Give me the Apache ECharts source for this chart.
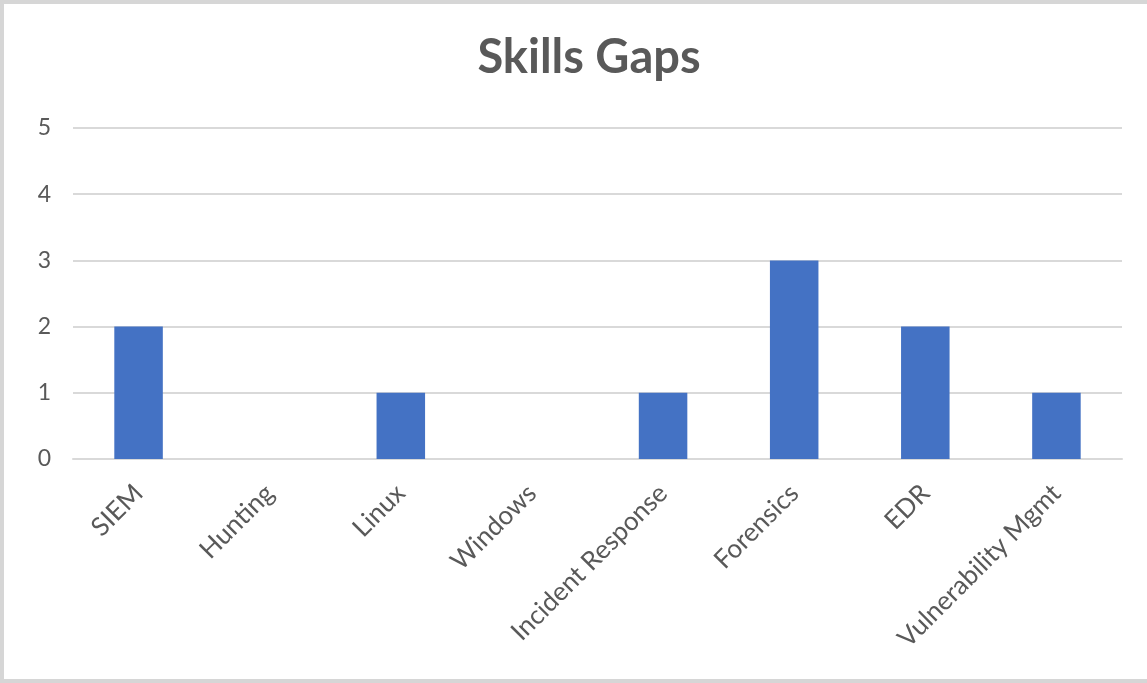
<!DOCTYPE html>
<html>
<head>
<meta charset="utf-8">
<script src="https://cdn.jsdelivr.net/npm/echarts@6/dist/echarts.min.js"></script>
<style>
html,body{margin:0;padding:0;background:#fff;}
#frame{position:absolute;left:0;top:0;width:1147px;height:683px;box-sizing:border-box;border-top:4px solid #d6d6d6;border-left:4px solid #d6d6d6;border-bottom:4px solid #d6d6d6;}
#chart{position:absolute;left:0;top:0;width:1147px;height:683px;}
</style>
</head>
<body>
<div id="frame"></div>
<div id="chart"></div>
<script>
const categories = ["SIEM", "Hunting", "Linux", "Windows", "Incident Response", "Forensics", "EDR", "Vulnerability Mgmt"];
const values = [2, 0, 1, 0, 1, 3, 2, 1];
const yTicks = [0, 1, 2, 3, 4, 5];

const chart = echarts.init(document.getElementById('chart'));
chart.setOption({
  animation: false,
  title: {
    text: 'Skills Gaps',
    left: 584,
    textAlign: 'center',
    top: 29,
    textStyle: {fontFamily: 'Lato', fontWeight: 'bold', fontSize: 47, color: '#595959'}
  },
  grid: {left: 73, right: 25, top: 128, bottom: 224, containLabel: false},
  xAxis: {
    type: 'category',
    data: categories,
    axisLine: {lineStyle: {color: '#d9d9d9', width: 2}},
    axisTick: {show: false},
    axisLabel: {rotate: 45, fontFamily: 'Lato', fontSize: 26, color: '#595959', margin: 30, interval: 0}
  },
  yAxis: {
    type: 'value',
    min: yTicks[0],
    max: yTicks[yTicks.length - 1],
    interval: 1,
    axisLine: {show: false},
    axisTick: {show: false},
    splitLine: {lineStyle: {color: '#d9d9d9', width: 2}},
    axisLabel: {fontFamily: 'Lato', fontSize: 23, color: '#595959', margin: 22}
  },
  series: [{
    type: 'bar',
    data: values,
    barWidth: '37%',
    itemStyle: {color: '#4472C4'}
  }]
});
</script>
</body>
</html>
